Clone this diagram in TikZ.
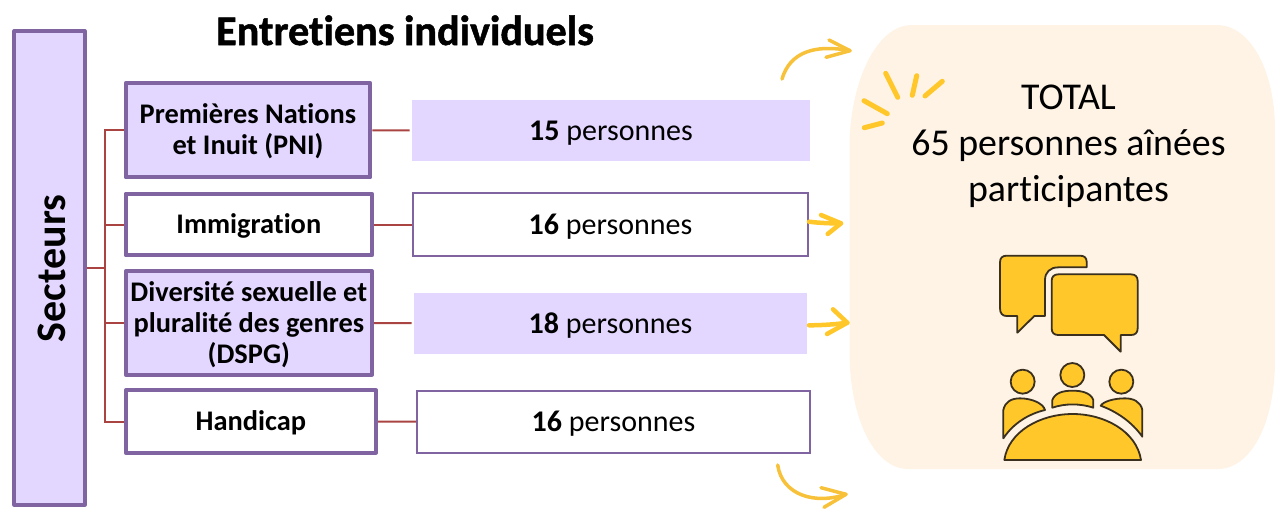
\documentclass[tikz,border=0pt]{standalone}
\usepackage{fontspec}
\setmainfont{Carlito}[RawFeature={-liga;-clig}]
\definecolor{violetline}{HTML}{8064A2}
\definecolor{violetfill}{HTML}{E4D7FF}
\definecolor{linkred}{HTML}{A94442}
\definecolor{panel}{HTML}{FEF3E5}
\definecolor{gold}{HTML}{FFC729}
\definecolor{goldarrow}{HTML}{F7C13A}
\definecolor{iconline}{HTML}{3B2F1E}
\def\px{0.75pt}
\newcommand\lowered[1]{\raisebox{-2.2pt}[\height][\depth]{\begin{tabular}{@{}c@{}}#1\end{tabular}}}
\tikzset{
  x=0.75pt,y=-0.75pt,
  sectorbox/.style={draw=violetline,line width=4*\px,line join=round,fill=white,align=center,inner sep=0pt,font=\fontsize{21.3}{23.25}\selectfont\bfseries},
  shaded/.style={fill=violetfill},
  countbox/.style={inner sep=0pt,font=\fontsize{22.5}{26}\selectfont},
  countline/.style={draw=violetline,line width=2*\px,fill=white},
  countfill/.style={fill=violetfill},
  link/.style={draw=linkred,line width=2*\px},
  goldstroke/.style={draw=goldarrow,line width=3.5*\px,line cap=round,line join=round},
  goldbold/.style={draw=gold,line width=4.5*\px,line cap=round,line join=round},
  spark/.style={draw=gold,line width=5*\px,line cap=round},
  icon/.style={draw=iconline,fill=gold,line width=1.8*\px,line join=round},
}
\begin{document}
\begin{tikzpicture}
\useasboundingbox (0,0) rectangle (1275,508);
% panel
\fill[panel] (849.5,145) .. controls (850,85) and (875,25) .. (912,25) -- (1217,25)
  .. controls (1250,25) and (1275,70) .. (1275,130) -- (1275,360)
  .. controls (1275,425) and (1250,469) .. (1218,469) -- (908,469)
  .. controls (875,469) and (850,420) .. (849.5,353) -- cycle;
% title
\node[font=\fontsize{31.6}{36}\selectfont\bfseries\addfontfeature{FakeBold=1.2},inner sep=0pt,anchor=base] (title) at (405,45) {Entretiens individuels};
% left column
\node[sectorbox,shaded,minimum width=70.4*\px,minimum height=473.7*\px] (sec) at (49.5,268) {};
\node[font=\fontsize{31.5}{34}\selectfont\bfseries,rotate=90,inner sep=0pt] (sectxt) at (52,268.5) {Secteurs};
\node[sectorbox,shaded,minimum width=244.6*\px,minimum height=94.3*\px] (pni) at (248,130.15) {\lowered{Premières Nations\\et Inuit (PNI)}};
\node[sectorbox,minimum width=246.3*\px,minimum height=61.6*\px] (imm) at (248.85,224.5) {\lowered{Immigration}};
\node[sectorbox,shaded,minimum width=246.3*\px,minimum height=103.4*\px] (dspg) at (248.85,323) {\lowered{Diversité sexuelle et\\pluralité des genres\\(DSPG)}};
\node[sectorbox,minimum width=250.3*\px,minimum height=62.4*\px] (hand) at (250.85,421.5) {\lowered{Handicap}};
% counts
\node[countbox,countfill,minimum width=398*\px,minimum height=61*\px] (c1) at (611,130.5) {\lowered{\textbf{15} personnes}};
\node[countbox,countline,minimum width=395*\px,minimum height=63*\px] (c2) at (610.5,224.5) {\lowered{\textbf{16} personnes}};
\node[countbox,countfill,minimum width=393*\px,minimum height=61*\px] (c3) at (610.5,323.5) {\lowered{\textbf{18} personnes}};
\node[countbox,countline,minimum width=393*\px,minimum height=62*\px] (c4) at (613.5,422) {\lowered{\textbf{16} personnes}};
% connectors
\coordinate (trunk) at (105,268);
\draw[link] (sec.east) -- (trunk);
\foreach \n in {pni,imm,dspg,hand} \draw[link] (trunk) |- (\n.west);
\draw[link,shorten >=1.5pt] (pni) -- (c1);
\draw[link] (imm) -- (c2);
\draw[link,shorten >=1.5pt] (dspg) -- (c3);
\draw[link] (hand) -- (c4);
% arrows
\draw[goldstroke] (782,79) .. controls (790,52) and (815,44) .. (850,50.7);
\draw[goldstroke] (829,40) -- (850,50.7) -- (826,57.3);
\draw[goldbold] (809,221.7) .. controls (820,223) and (830,223.5) .. (841,223.3);
\draw[goldbold] (821,215) -- (841,223.3) -- (827.7,234);
\draw[goldbold] (809,325.3) .. controls (820,325.3) and (835,324.5) .. (847.3,322.7);
\draw[goldbold] (833,309.3) -- (847.3,322.7) -- (827,334);
\draw[goldstroke] (777.7,465) .. controls (782,495) and (815,505) .. (846,494.3);
\draw[goldstroke] (821,487.7) -- (846,494.3) -- (824,507.3);
% sparks
\draw[spark] (885.7,73.3) -- (897.7,97.3);
\draw[spark] (916.7,75.7) -- (912.3,95.3);
\draw[spark] (942.3,81.3) -- (925,96);
\draw[spark] (864,100.7) -- (887.3,113.7);
\draw[spark] (864.3,127.7) -- (882.3,123);
% total
\node[font=\fontsize{28.4}{34.5}\selectfont,align=center,inner sep=0pt] (total) at (1068.5,146.5) {TOTAL\\65 personnes aînées\\participantes};
% icon
\begin{scope}[shift={(980,240)},x=0.25pt,y=-0.25pt]
\path[icon] (320,82) -- (320,65) .. controls (320,53) and (312,47) .. (300,47) -- (80,47)
  .. controls (67,47) and (60,54) .. (60,67) -- (60,205) .. controls (60,220) and (67,228) .. (80,228)
  -- (112,228) -- (112,278) -- (163,228) -- (195,228) -- (195,120) .. controls (195,97) and (210,82) .. (235,82) -- cycle;
\path[icon] (235,103) -- (453,103) .. controls (466,103) and (473,110) .. (473,123) -- (473,265)
  .. controls (473,278) and (466,285) .. (453,285) -- (422,285) -- (422,335) -- (372,285) -- (235,285)
  .. controls (222,285) and (215,278) .. (215,265) -- (215,123) .. controls (215,110) and (222,103) .. (235,103) -- cycle;
\path[icon] (128,425) circle[radius=36];
\path[icon] (277,405) circle[radius=36];
\path[icon] (424,425) circle[radius=36];
\path[icon] (217,503) -- (217,480) .. controls (225,458) and (250,452) .. (277,452) .. controls (305,452) and (332,458) .. (340,480) -- (340,503) .. controls (300,490) and (255,490) .. (217,503) -- cycle;
\path[icon] (70,595) -- (70,510) .. controls (75,485) and (95,475) .. (120,475) .. controls (155,475) and (190,490) .. (195,510) .. controls (145,522) and (100,550) .. (70,595) -- cycle;
\path[icon] (487,590) -- (487,510) .. controls (482,485) and (460,475) .. (435,475) .. controls (400,475) and (370,485) .. (362,497) .. controls (410,515) and (455,545) .. (487,590) -- cycle;
\path[icon] (73,660) .. controls (85,575) and (180,522) .. (278,522) .. controls (375,522) and (470,575) .. (483,660) -- cycle;
\end{scope}
\end{tikzpicture}
\end{document}
